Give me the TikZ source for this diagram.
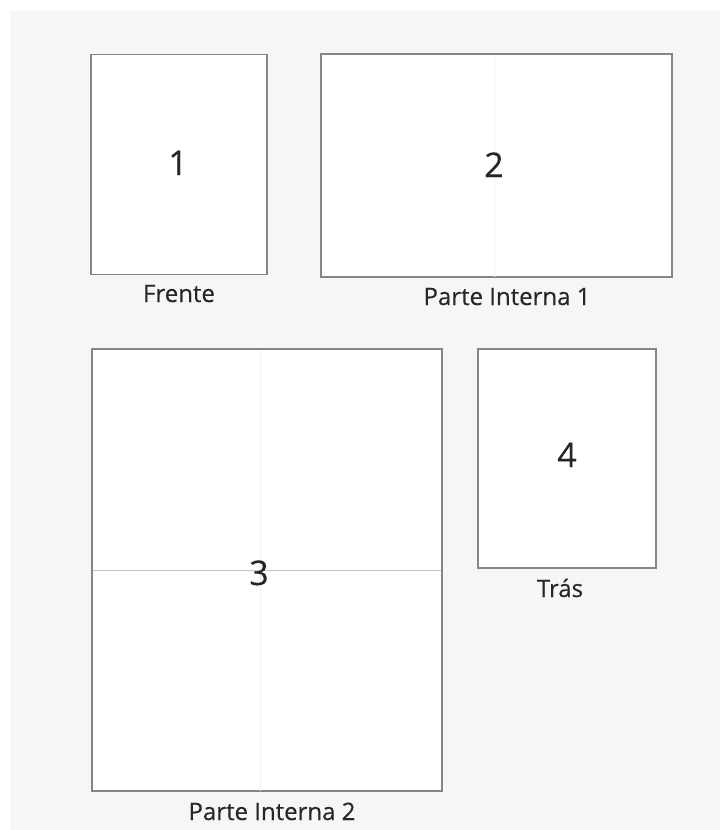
\documentclass[tikz,border=0pt]{standalone}
\usepackage{fontspec}
\setmainfont{Open Sans}[BoldFont={Open Sans}, BoldFeatures={FakeBold=0.3}]
\definecolor{bggray}{HTML}{F6F6F6}
\definecolor{edgegray}{HTML}{858585}
\definecolor{foldfaint}{HTML}{F2F2F2}
\definecolor{foldmid}{HTML}{C4C4C4}
\definecolor{txt}{HTML}{262626}
\begin{document}
\begin{tikzpicture}[x=1pt,y=-1pt,
  panel/.style={draw=edgegray, fill=white, line width=1.5pt, inner sep=0pt, outer sep=0pt, rectangle},
  num/.style={font=\fontsize{34}{34}\selectfont\bfseries, text=txt, anchor=base, inner sep=0pt},
  lab/.style={font=\fontsize{24}{24}\selectfont\bfseries, text=txt, anchor=base, inner sep=0pt}]
\useasboundingbox (0,0) rectangle (720,830);
\fill[white] (0,0) rectangle (720,830);
\fill[bggray] (10,11) rectangle (720,830);
% panels
\node[panel, minimum width=176pt, minimum height=220pt] (p1) at (179,164.5) {};
\node[panel, minimum width=351pt, minimum height=223pt] (p2) at (496.5,165.5) {};
\node[panel, minimum width=350pt, minimum height=442pt] (p3) at (267,570) {};
\node[panel, minimum width=178pt, minimum height=219pt] (p4) at (567,458.5) {};
% fold lines
\draw[foldfaint, line width=1pt] (p2.north) ++(-2,1) coordinate (f2a) -- (p2.south -| f2a);
\draw[foldfaint, line width=1pt] (p3.north) ++(-7,1) coordinate (f3a) -- (p3.south -| f3a);
\coordinate (f3b) at ([xshift=1pt]p3.west);
\draw[foldmid, line width=1pt] (f3b) -- ([xshift=-1pt]p3.east);
% numbers
\node[num] (n1) at (178,175) {1};
\node[num] (n2) at (494,177) {2};
\node[num] (n3) at (259,585) {3};
\node[num] (n4) at (567,467) {4};
% labels
\node[lab] (l1) at (179,302) {Frente};
\node[lab] (l2) at (507,305) {Parte Interna 1};
\node[lab] (l4) at (560,597) {Trás};
\node[lab] (l3) at (272,820) {Parte Interna 2};
\end{tikzpicture}
\end{document}
